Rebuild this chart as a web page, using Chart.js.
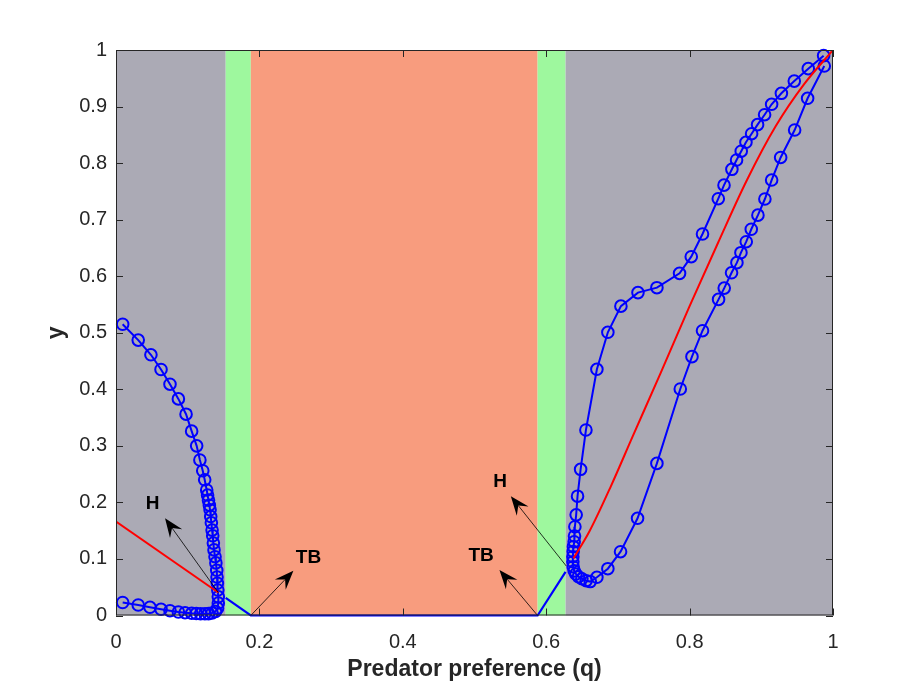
<!DOCTYPE html>
<html>
<head>
<meta charset="utf-8">
<script src="https://cdn.jsdelivr.net/npm/chart.js@4/dist/chart.umd.min.js"></script>
<style>
  html, body { margin: 0; padding: 0; background: #fff; }
  #wrap { width: 900px; height: 692px; }
</style>
</head>
<body>
<div id="wrap"><canvas id="chart" width="900" height="692"></canvas></div>
<script>
// background regions along q
const bandEdges = [0, 0.153, 0.188, 0.588, 0.627, 1];
const bandColors = ['#abaab5', '#9ef89e', '#f89c7e', '#9ef89e', '#abaab5'];

// left limit cycle branch (circles)
const leftLoopQ = [0.0093, 0.031, 0.0487, 0.0628, 0.0753, 0.087, 0.0977, 0.1055, 0.1125, 0.117,
  0.121, 0.1237, 0.1265, 0.1277, 0.129, 0.1302, 0.1312, 0.1321, 0.133, 0.134,
  0.1349, 0.1358, 0.1367, 0.1381, 0.1393, 0.1405, 0.1409, 0.1414, 0.142, 0.1427,
  0.1427, 0.1416, 0.1388, 0.134, 0.129, 0.124, 0.118, 0.112, 0.1056, 0.0963,
  0.087, 0.0753, 0.0628, 0.0474, 0.031, 0.0093];
const leftLoopY = [0.515, 0.487, 0.461, 0.435, 0.409, 0.383, 0.356, 0.326, 0.300, 0.275,
  0.256, 0.240, 0.222, 0.213, 0.204, 0.195, 0.187, 0.175, 0.164, 0.151,
  0.141, 0.128, 0.116, 0.104, 0.093, 0.080, 0.068, 0.057, 0.045, 0.033,
  0.022, 0.013, 0.007, 0.0044, 0.0033, 0.003, 0.003, 0.0035, 0.0039, 0.0049,
  0.0062, 0.0085, 0.011, 0.0145, 0.0186, 0.023];

// right limit cycle branch (circles)
const rightLoopQ = [0.9869, 0.9655, 0.946, 0.928, 0.9144, 0.9046, 0.8948, 0.8865, 0.8786, 0.872,
  0.8655, 0.859, 0.848, 0.840, 0.818, 0.8023, 0.786, 0.7544, 0.728, 0.7042,
  0.686, 0.6707, 0.6554, 0.648, 0.6437, 0.6418, 0.640, 0.6395, 0.639, 0.638,
  0.6376, 0.6372, 0.6372, 0.6376, 0.639, 0.6414, 0.645, 0.6498, 0.6558, 0.6614,
  0.6707, 0.686, 0.7037, 0.7274, 0.7544, 0.787, 0.8033, 0.818, 0.8404, 0.8483,
  0.8585, 0.866, 0.8716, 0.879, 0.886, 0.8953, 0.905, 0.9144, 0.927, 0.9465,
  0.9646, 0.9878];
const rightLoopY = [0.990, 0.967, 0.945, 0.9234, 0.904, 0.8856, 0.868, 0.852, 0.8368, 0.821,
  0.8055, 0.789, 0.761, 0.737, 0.6746, 0.6345, 0.605, 0.5797, 0.571, 0.547,
  0.5008, 0.4354, 0.328, 0.2585, 0.211, 0.178, 0.157, 0.1406, 0.1305, 0.1217,
  0.113, 0.104, 0.095, 0.0863, 0.079, 0.0734, 0.0686, 0.065, 0.0615, 0.060,
  0.0676, 0.0828, 0.1128, 0.1719, 0.269, 0.4005, 0.4577, 0.5036, 0.559, 0.579,
  0.606, 0.624, 0.6416, 0.661, 0.683, 0.708, 0.7365, 0.770, 0.810, 0.8585,
  0.9146, 0.9717];

// unstable equilibrium branches (red)
const leftRedQ = [0, 0.1426];
const leftRedY = [0.166, 0.0407];
const rightRedQ = [0.638, 0.66, 0.69, 0.72, 0.76, 0.80, 0.84, 0.88, 0.92, 0.96, 1];
const rightRedY = [0.101, 0.148, 0.228, 0.315, 0.43, 0.547, 0.66, 0.77, 0.865, 0.94, 1];

// stable equilibrium (blue line)
const eqQ = [0.153, 0.188, 0.588, 0.627];
const eqY = [0.031, 0, 0, 0.077];

// arrow annotations: label, label position, arrow tail, arrow tip
const annLabels = ['H', 'TB', 'H', 'TB'];
const annTextQ = [0.0512, 0.2684, 0.5357, 0.5093];
const annTextY = [0.198, 0.1016, 0.237, 0.105];
const annTailQ = [0.1426, 0.188, 0.628, 0.588];
const annTailY = [0.0407, 0, 0.0875, 0];
const annTipQ = [0.0684, 0.2474, 0.5507, 0.5348];
const annTipY = [0.172, 0.079, 0.211, 0.0805];

const xTicks = [0, 0.2, 0.4, 0.6, 0.8, 1];
const yTicks = [0, 0.1, 0.2, 0.3, 0.4, 0.5, 0.6, 0.7, 0.8, 0.9, 1];

const pts = (qs, ys) => qs.map((q, i) => ({ x: q, y: ys[i] }));
const FONT = '"Liberation Sans", Arial, Helvetica, sans-serif';
const AXIS_COLOR = '#262626';

const bandsPlugin = {
  id: 'bands',
  beforeDatasetsDraw(chart) {
    const { ctx, chartArea, scales } = chart;
    ctx.save();
    for (let i = 0; i < bandColors.length; i++) {
      const x0 = scales.x.getPixelForValue(bandEdges[i]);
      const x1 = scales.x.getPixelForValue(bandEdges[i + 1]);
      ctx.fillStyle = bandColors[i];
      ctx.fillRect(x0, chartArea.top, x1 - x0, chartArea.bottom - chartArea.top);
    }
    ctx.restore();
  }
};

function drawArrow(ctx, x0, y0, x1, y1) {
  const ang = Math.atan2(y1 - y0, x1 - x0);
  const len = 19, half = 7.5, notch = 12;
  ctx.strokeStyle = '#000';
  ctx.lineWidth = 0.8;
  ctx.beginPath();
  ctx.moveTo(x0, y0);
  ctx.lineTo(x1 - Math.cos(ang) * notch, y1 - Math.sin(ang) * notch);
  ctx.stroke();
  ctx.fillStyle = '#000';
  ctx.save();
  ctx.translate(x1, y1);
  ctx.rotate(ang);
  ctx.beginPath();
  ctx.moveTo(0, 0);
  ctx.lineTo(-len, -half);
  ctx.lineTo(-notch, 0);
  ctx.lineTo(-len, half);
  ctx.closePath();
  ctx.fill();
  ctx.restore();
}

const framePlugin = {
  id: 'frame',
  afterDatasetsDraw(chart) {
    const { ctx, chartArea: a, scales } = chart;
    const sx = scales.x, sy = scales.y;
    ctx.save();

    // annotations
    for (let i = 0; i < annLabels.length; i++) {
      drawArrow(ctx,
        sx.getPixelForValue(annTailQ[i]), sy.getPixelForValue(annTailY[i]),
        sx.getPixelForValue(annTipQ[i]), sy.getPixelForValue(annTipY[i]));
      ctx.fillStyle = '#000';
      ctx.font = 'bold 19px ' + FONT;
      ctx.textAlign = 'center';
      ctx.textBaseline = 'middle';
      ctx.fillText(annLabels[i], sx.getPixelForValue(annTextQ[i]), sy.getPixelForValue(annTextY[i]));
    }

    // box and inward ticks
    ctx.strokeStyle = AXIS_COLOR;
    ctx.lineWidth = 1;
    ctx.strokeRect(a.left + 0.5, a.top + 0.5, a.right - a.left - 1, a.bottom - a.top - 1);
    const tl = 7;
    ctx.beginPath();
    xTicks.forEach(v => {
      const px = Math.round(sx.getPixelForValue(v)) + 0.5;
      ctx.moveTo(px, a.bottom); ctx.lineTo(px, a.bottom - tl);
      ctx.moveTo(px, a.top); ctx.lineTo(px, a.top + tl);
    });
    yTicks.forEach(v => {
      const py = Math.round(sy.getPixelForValue(v)) + 0.5;
      ctx.moveTo(a.left, py); ctx.lineTo(a.left + tl, py);
      ctx.moveTo(a.right, py); ctx.lineTo(a.right - tl, py);
    });
    ctx.stroke();

    // axis titles
    ctx.fillStyle = AXIS_COLOR;
    ctx.font = 'bold 23px ' + FONT;
    ctx.textAlign = 'center';
    ctx.textBaseline = 'middle';
    ctx.fillText('Predator preference (q)', (a.left + a.right) / 2, 670);
    ctx.translate(57, (a.top + a.bottom) / 2);
    ctx.rotate(-Math.PI / 2);
    ctx.fillText('y', 0, 0);
    ctx.restore();
  }
};

const circleStyle = {
  borderColor: '#0000ff',
  borderWidth: 2,
  pointRadius: 5.8,
  pointBorderWidth: 2,
  pointBorderColor: '#0000ff',
  pointBackgroundColor: 'rgba(0,0,0,0)',
  showLine: true,
  tension: 0
};

new Chart(document.getElementById('chart').getContext('2d'), {
  type: 'scatter',
  data: {
    datasets: [
      { label: 'eq', data: pts(eqQ, eqY), borderColor: '#0000ff', borderWidth: 2.2,
        pointRadius: 0, showLine: true, clip: 6 },
      { label: 'leftRed', data: pts(leftRedQ, leftRedY), borderColor: '#ff0000', borderWidth: 2,
        pointRadius: 0, showLine: true },
      { label: 'rightRed', data: pts(rightRedQ, rightRedY), borderColor: '#ff0000', borderWidth: 2,
        pointRadius: 0, showLine: true, cubicInterpolationMode: 'monotone' },
      Object.assign({ label: 'leftLoop', data: pts(leftLoopQ, leftLoopY), clip: 8 }, circleStyle),
      Object.assign({ label: 'rightLoop', data: pts(rightLoopQ, rightLoopY), clip: 8 }, circleStyle)
    ]
  },
  options: {
    responsive: false,
    animation: false,
    layout: { padding: { left: 0, right: 67, top: 50, bottom: 0 } },
    plugins: { legend: { display: false }, tooltip: { enabled: false } },
    scales: {
      x: {
        type: 'linear', min: 0, max: 1,
        grid: { display: false, drawTicks: false },
        border: { display: false },
        afterFit: s => { s.height = 76.5; },
        afterBuildTicks: s => { s.ticks = xTicks.map(v => ({ value: v })); },
        ticks: { autoSkip: false, maxRotation: 0, padding: 15, color: AXIS_COLOR,
          font: { family: FONT, size: 20 }, callback: v => String(+v.toFixed(1)) }
      },
      y: {
        type: 'linear', min: 0, max: 1,
        grid: { display: false, drawTicks: false },
        border: { display: false },
        afterFit: s => { s.width = 116; },
        afterBuildTicks: s => { s.ticks = yTicks.map(v => ({ value: v })); },
        ticks: { autoSkip: false, padding: 9, color: AXIS_COLOR,
          font: { family: FONT, size: 20 }, callback: v => String(+v.toFixed(1)) }
      }
    }
  },
  plugins: [bandsPlugin, framePlugin]
});
</script>
</body>
</html>
